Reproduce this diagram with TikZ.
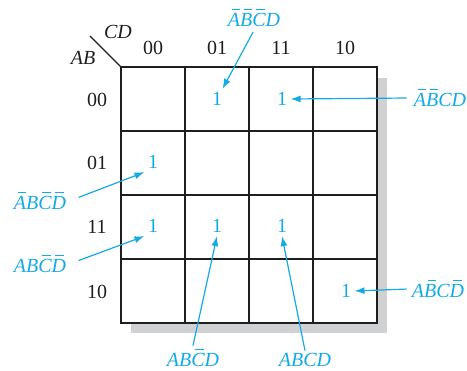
\documentclass[tikz,border=0pt]{standalone}
\usepackage{fontspec}
\setmainfont{Liberation Serif}
\usetikzlibrary{arrows.meta,positioning,calc}
\definecolor{KMapCyan}{RGB}{20,170,228}
\definecolor{KMapShade}{RGB}{208,209,211}
\definecolor{KMapInk}{RGB}{30,30,30}
% short bar over one letter
\newcommand{\nb}[1]{\leavevmode\rlap{\kern0.19em\raisebox{0.86em}{\rule{0.42em}{0.05em}}}#1}

\begin{document}
\begin{tikzpicture}[x=1pt, y=-1pt,
  hdr/.style={font=\fontsize{20}{20}\selectfont, color=KMapInk},
  var/.style={font=\fontsize{20}{20}\selectfont\itshape, color=KMapInk},
  one/.style={font=\fontsize{20}{20}\selectfont, color=KMapCyan},
  term/.style={font=\fontsize{20}{20}\selectfont\itshape, color=KMapCyan,
               inner sep=3pt, anchor=base},
  pointer/.style={KMapCyan, line width=1.2pt, -{Latex[length=10pt,width=7pt]}}
]
  \useasboundingbox (0,0) rectangle (467,371);

  % Shadow and map
  \fill[KMapShade] (131,78) rectangle (387,333);
  \draw[KMapInk, line width=1.6pt, fill=white] (121,67) rectangle (377,323);
  \foreach \x in {185,249,313}
    \draw[KMapInk, line width=1.6pt] (\x,67) -- (\x,323);
  \foreach \y in {131,195,259}
    \draw[KMapInk, line width=1.6pt] (121,\y) -- (377,\y);
  \draw[KMapInk, line width=1.2pt] (121,67) -- (90,36);

  % Variable names
  \node[var] (cd) at (118,32) {CD};
  \node[var] (ab) at (83,58) {AB};

  % Gray code
  \foreach \c/\x in {00/153,01/217,11/281,10/345}
    \node[hdr] (col\c) at (\x,48) {\c};
  \foreach \r/\y in {00/100,01/163,11/227,10/292}
    \node[hdr] (row\r) at (97,\y) {\r};

  % Ones
  \node[one] (m1)  at (217,99)  {1};
  \node[one] (m3)  at (282,99)  {1};
  \node[one] (m4)  at (153,162) {1};
  \node[one] (m12) at (153,226) {1};
  \node[one] (m13) at (217,226) {1};
  \node[one] (m15) at (282,226) {1};
  \node[one] (m10) at (346,291) {1};

  % Minterms
  \node[term] (t1)  at (254,27)  {\nb{A}\nb{B}\nb{C}D};
  \node[term] (t3)  at (440,107) {\nb{A}\nb{B}CD};
  \node[term] (t4)  at (40,210)  {\nb{A}B\nb{C}\nb{D}};
  \node[term] (t12) at (40,273)  {AB\nb{C}\nb{D}};
  \node[term] (t13) at (193,367) {AB\nb{C}D};
  \node[term] (t15) at (305,367) {ABCD};
  \node[term] (t10) at (438,298) {A\nb{B}C\nb{D}};

  % Pointers
  \draw[pointer, shorten <=2pt] (t1.south) -- (m1);
  \draw[pointer, shorten <=4pt] (t3.west) -- (m3.east);
  \draw[pointer, shorten <=10pt] (t4.east) -- (m4.south west);
  \draw[pointer, shorten <=10pt] (t12.east) -- (m12.south west);
  \draw[pointer] (t13.north) -- (m13.south);
  \draw[pointer] (t15.north) -- (m15.south);
  \draw[pointer, shorten <=2pt] (t10.west) -- (m10.east);
\end{tikzpicture}
\end{document}
